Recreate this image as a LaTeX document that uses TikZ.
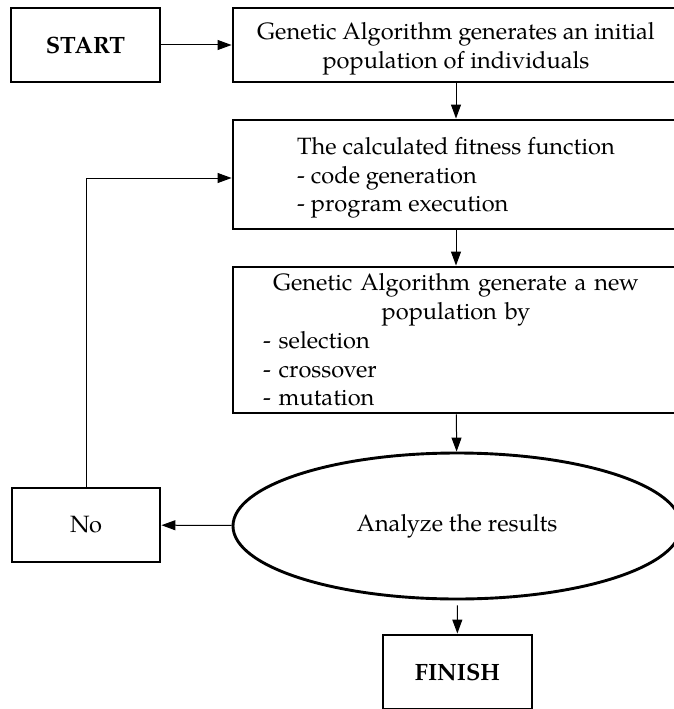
\documentclass[tikz,border=0pt]{standalone}
\usepackage{fontspec}
\setmainfont{TeX Gyre Pagella}
\usetikzlibrary{shapes.geometric,arrows.meta}
\newcommand{\topgap}{\rule{0pt}{24pt}}
\begin{document}
\begin{tikzpicture}[x=1pt,y=-1pt,
  every node/.style={font=\fontsize{23.6}{28.8}\selectfont},
  box/.style={draw,rectangle,line width=2.9pt,inner sep=0pt},
  oval/.style={draw,ellipse,line width=2.9pt,inner sep=0pt},
  arr/.style={-{Triangle[length=14pt,width=10pt]},line width=1pt},
  bold/.style={font=\fontsize{23.6}{28.8}\selectfont\bfseries}]
\useasboundingbox (0,0) rectangle (674,709);
\node[box,bold,minimum width=149pt,minimum height=74pt] (start) at (85.5,45) {START};
\node[box,minimum width=446pt,minimum height=74pt,align=center] (gen) at (456,45)
  {\topgap Genetic Algorithm generates an initial\\population of individuals};
\node[box,minimum width=446pt,minimum height=109pt,align=left] (fit) at (456,174.5)
  {\topgap The calculated fitness function\\- code generation\\- program execution};
\node[box,minimum width=446pt,minimum height=146pt,text width=386pt,align=left] (newpop) at (456,340)
  {{\centering Genetic Algorithm generate a new\\population by\par}\raggedright - selection\\- crossover\\- mutation};
\node[oval,minimum width=448pt,minimum height=146pt] (res) at (457,526) {Analyze the results};
\node[box,minimum width=148pt,minimum height=74pt] (no) at (86,525) {No};
\node[box,bold,minimum width=149pt,minimum height=74pt] (fin) at (457.5,672) {FINISH};
\coordinate (bend) at (86,178);
\draw[arr] (start) -- (gen);
\draw[arr] (gen) -- (fit);
\draw[arr] (fit) -- (newpop);
\draw[arr] (newpop) -- (res);
\draw[arr] (res) -- (no);
\draw[arr,shorten <=5pt] (res) -- (fin);
\draw[arr] (no.north) -- (bend) -- (fit.west |- bend);
\end{tikzpicture}
\end{document}
